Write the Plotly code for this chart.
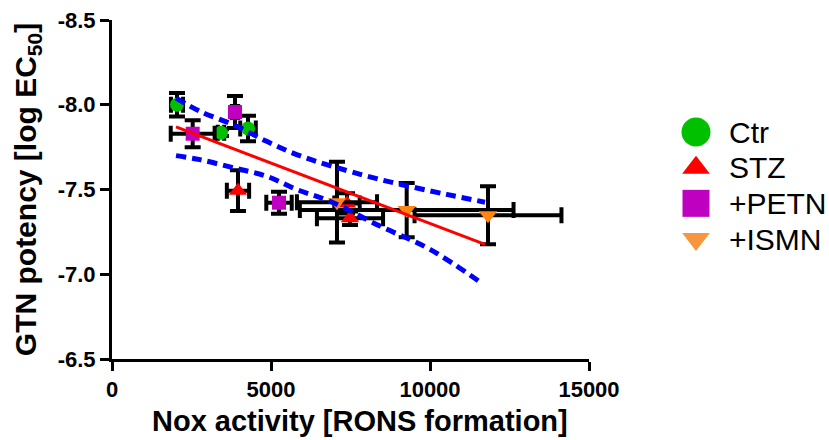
import plotly.graph_objects as go

# ---------------- data ----------------
groups = ["Ctr", "STZ", "+PETN", "+ISMN"]

ctr_x = [2044, 3428, 4277]
ctr_y = [-8.0, -7.835, -7.86]
ctr_xerr = [190, 100, 245]
ctr_yerr = [0.07, 0.02, 0.075]

stz_x = [3962, 7390, 7484]
stz_y = [-7.493, -7.418, -7.33]
stz_xerr = [350, 400, 1040]
stz_yerr = [0.12, 0.06, 0.04]

petn_x = [2537, 3868, 5252]
petn_y = [-7.829, -7.957, -7.422]
petn_xerr = [690, 100, 400]
petn_yerr = [0.08, 0.094, 0.065]

ismn_x = [7075, 9267, 11824]
ismn_y = [-7.425, -7.379, -7.348]
ismn_xerr = [1260, 3360, 2310]
ismn_yerr = [0.238, 0.16, 0.171]

fit_x = [2013, 11730]
fit_y = [-7.869, -7.176]

band_upper_x = [2013, 2767, 3814, 4865, 5808, 6855, 8428, 10525, 11730]
band_upper_y = [-8.039, -7.961, -7.882, -7.784, -7.706, -7.641, -7.559, -7.471, -7.425]
band_lower_x = [2013, 2767, 3814, 4865, 5808, 6855, 8428, 10000, 11626]
band_lower_y = [-7.70, -7.676, -7.628, -7.578, -7.50, -7.431, -7.284, -7.147, -6.947]

x_ticks = [0, 5000, 10000, 15000]
x_ticktext = ["0", "5000", "10000", "15000"]
y_ticks = [-8.5, -8.0, -7.5, -7.0, -6.5]
y_ticktext = ["-8.5", "-8.0", "-7.5", "-7.0", "-6.5"]

x_title = "Nox activity [RONS formation]"
y_title = "GTN potency [log EC<sub>50</sub>]"

# ---------------- style ----------------
FONT = "Arial, 'Liberation Sans', Helvetica, sans-serif"
colors = ["#00c000", "#ff0000", "#c000c0", "#ff8410"]
legend_colors = ["#00c000", "#ff0000", "#c000c0", "#f7963f"]
symbols = ["circle", "triangle-up", "square", "triangle-down"]
sizes = [14, 16, 14, 16]
legend_sizes = [29, 24, 27, 24]

W, H = 829, 440
L, R, T, B = 112, 3, 20, 81
plot_w = W - L - R
plot_h = H - T - B
main_w = 477

fig = go.Figure()

series = [
    (ctr_x, ctr_y, ctr_xerr, ctr_yerr),
    (stz_x, stz_y, stz_xerr, stz_yerr),
    (petn_x, petn_y, petn_xerr, petn_yerr),
    (ismn_x, ismn_y, ismn_xerr, ismn_yerr),
]

for i, (xs, ys, xe, ye) in enumerate(series):
    fig.add_trace(go.Scatter(
        x=xs, y=ys, mode="markers", name=groups[i], showlegend=False,
        marker=dict(symbol=symbols[i], size=sizes[i], color=colors[i],
                    opacity=1, line=dict(width=0)),
        error_x=dict(type="data", array=xe, visible=True, color="black",
                     thickness=4, width=8),
        error_y=dict(type="data", array=ye, visible=True, color="black",
                     thickness=4, width=8),
    ))

# confidence bands
for bx, by in [(band_upper_x, band_upper_y), (band_lower_x, band_lower_y)]:
    fig.add_trace(go.Scatter(
        x=bx, y=by, mode="lines", showlegend=False,
        line=dict(color="#0000ff", width=5, dash="10px,6px", shape="spline"),
    ))

# regression line
fig.add_trace(go.Scatter(
    x=fit_x, y=fit_y, mode="lines", showlegend=False,
    line=dict(color="#ff0000", width=3),
))

# custom legend (larger symbols)
leg_idx = list(range(len(groups)))
fig.add_trace(go.Scatter(
    x=[27] * len(groups), y=leg_idx, mode="markers", showlegend=False,
    xaxis="x2", yaxis="y2", hoverinfo="skip",
    marker=dict(symbol=symbols, size=legend_sizes, color=legend_colors,
                opacity=1, line=dict(width=0)),
))
for i, g in enumerate(groups):
    fig.add_annotation(x=58, y=leg_idx[i], xref="x2", yref="y2", text=g,
                       showarrow=False, xanchor="left", yanchor="middle",
                       font=dict(family=FONT, size=30, color="black"))

# x-axis title (as annotation so it can sit where the reference has it)
fig.add_annotation(x=(360 - L) / plot_w, y=(359 - 421) / plot_h,
                   xref="paper", yref="paper", text=x_title, showarrow=False,
                   xanchor="center", yanchor="middle",
                   font=dict(family=FONT, size=29, color="black", weight="bold"))

axis_common = dict(
    showline=True, linecolor="black", linewidth=3,
    ticks="outside", ticklen=9, tickwidth=3, tickcolor="black",
    showgrid=False, zeroline=False, automargin=False,
    tickfont=dict(family=FONT, size=22, color="black", weight="bold"),
)

fig.update_layout(
    template="none",
    width=W, height=H,
    margin=dict(l=L, r=R, t=T, b=B, pad=0),
    paper_bgcolor="white", plot_bgcolor="white",
    showlegend=False,
    xaxis=dict(
        domain=[0, main_w / plot_w], range=[0, 15000],
        tickvals=x_ticks, ticktext=x_ticktext,
        **axis_common,
    ),
    yaxis=dict(
        range=[-6.5, -8.5],
        tickvals=y_ticks, ticktext=y_ticktext,
        title=dict(text=y_title,
                   font=dict(family=FONT, size=30, color="black", weight="bold"),
                   standoff=13),
        **axis_common,
    ),
    xaxis2=dict(domain=[(669 - L) / plot_w, 1.0], range=[0, 157],
                visible=False, anchor="y2", fixedrange=True, automargin=False),
    yaxis2=dict(domain=[0, 1], range=[6.364, -3.14], visible=False,
                anchor="x2", fixedrange=True, automargin=False),
)

fig.write_html(
    "out.html",
    config={"displayModeBar": False},
    post_script="document.body.style.margin='0';document.body.style.overflow='hidden';",
)
